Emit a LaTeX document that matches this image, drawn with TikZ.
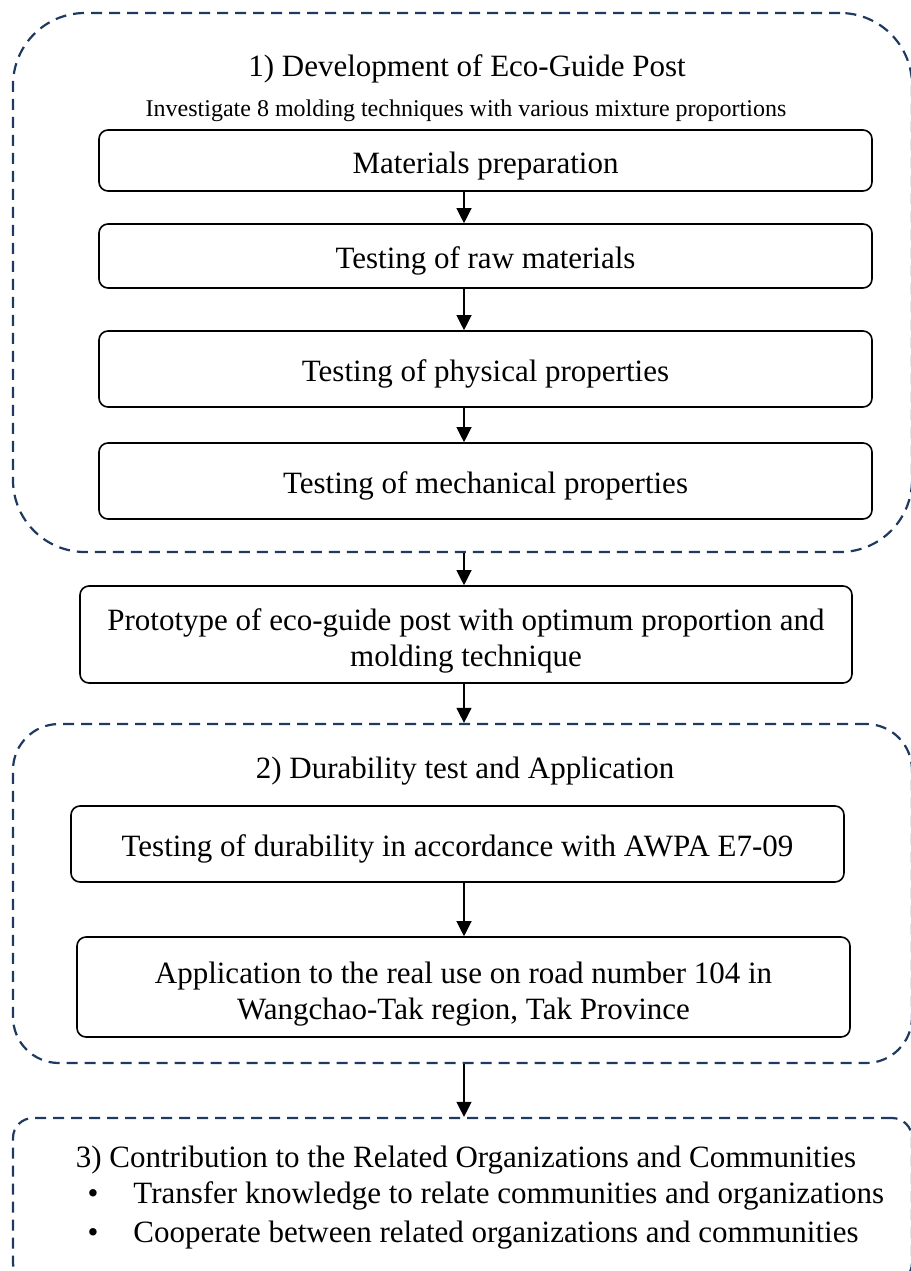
\documentclass[tikz,border=0pt]{standalone}
\usepackage{fontspec}
\setmainfont{Liberation Serif}
\usepackage{tikz}
\usetikzlibrary{shapes, arrows.meta, positioning}
\usepackage{xcolor}
\definecolor{navy}{HTML}{1F3A60}

\begin{document}
\begin{tikzpicture}[x=1pt, y=-1pt, thick]
        % Define block styles
        \tikzstyle{stagebox} = [rectangle, draw=navy, line width=2.2pt, dash pattern=on 11pt off 7pt, minimum width=899pt]
        \tikzstyle{stepbox} = [rectangle, draw=black, line width=1.6pt, rounded corners=9pt, minimum width=773pt, text centered, align=center, font=\fontsize{31}{36}\selectfont, execute at begin node={\rule{0pt}{32pt}}]
        \tikzstyle{heading} = [anchor=base, inner sep=0pt, font=\fontsize{31}{36}\selectfont]
        \tikzstyle{line} = [draw, line width=1.2pt, -{Triangle[length=15pt, width=15pt]}]

        \useasboundingbox (0,0) rectangle (910,1271);

        % Stage boxes
        \node [stagebox, rounded corners=72pt, minimum height=539pt] (dev) at (462.5,282.5) {};
        \node [stagebox, rounded corners=46pt, minimum height=339pt] (dur) at (462.5,893.5) {};
        \node [stagebox, rounded corners=20pt, minimum height=165pt] (con) at (462.5,1200.5) {};

        % Titles
        \node [heading] (t1) at (467,77) {1) Development of Eco-Guide Post};
        \node [heading, font=\fontsize{24}{28}\selectfont] (note) at (466,117) {Investigate 8 molding techniques with various mixture proportions};
        \node [heading] (t2) at (465,778) {2) Durability test and Application};
        \node [heading] (t3) at (466,1167) {3) Contribution to the Related Organizations and Communities};

        % Define nodes
        \node [stepbox, minimum height=61pt] (prep) at (485.5,160.5) {Materials preparation};
        \node [stepbox, minimum height=64pt] (raw) at (485.5,256) {Testing of raw materials};
        \node [stepbox, minimum height=76pt] (phys) at (485.5,369) {Testing of physical properties};
        \node [stepbox, minimum height=76pt] (mech) at (485.5,481) {Testing of mechanical properties};
        \node [stepbox, minimum height=97pt, minimum width=772pt] (proto) at (466,634.5) {\rule{0pt}{35pt}Prototype of eco-guide post with optimum proportion and\\molding technique};
        \node [stepbox, minimum height=76pt] (test) at (457.5,844) {Testing of durability in accordance with AWPA E7-09};
        \node [stepbox, minimum height=100pt] (app) at (463.5,987) {\rule{0pt}{35pt}Application to the real use on road number 104 in\\Wangchao-Tak region, Tak Province};

        % Bullet list
        \node [heading] (d1) at (93,1203) {\textbullet};
        \node [heading, anchor=base west] (b1) at (133,1203) {Transfer knowledge to relate communities and organizations};
        \node [heading] (d2) at (93,1242) {\textbullet};
        \node [heading, anchor=base west] (b2) at (133,1242) {Cooperate between related organizations and communities};

        % Connect nodes with paths
        \coordinate (ax) at (464,0);
        \path [line] (prep.south -| ax) -- (raw.north -| ax);
        \path [line] (raw.south -| ax) -- (phys.north -| ax);
        \path [line] (phys.south -| ax) -- (mech.north -| ax);
        \path [line] (dev.south -| ax) -- (proto.north -| ax);
        \path [line] (proto.south -| ax) -- (dur.north -| ax);
        \path [line] (test.south -| ax) -- (app.north -| ax);
        \path [line] (dur.south -| ax) -- (con.north -| ax);

    \end{tikzpicture}
\end{document}
